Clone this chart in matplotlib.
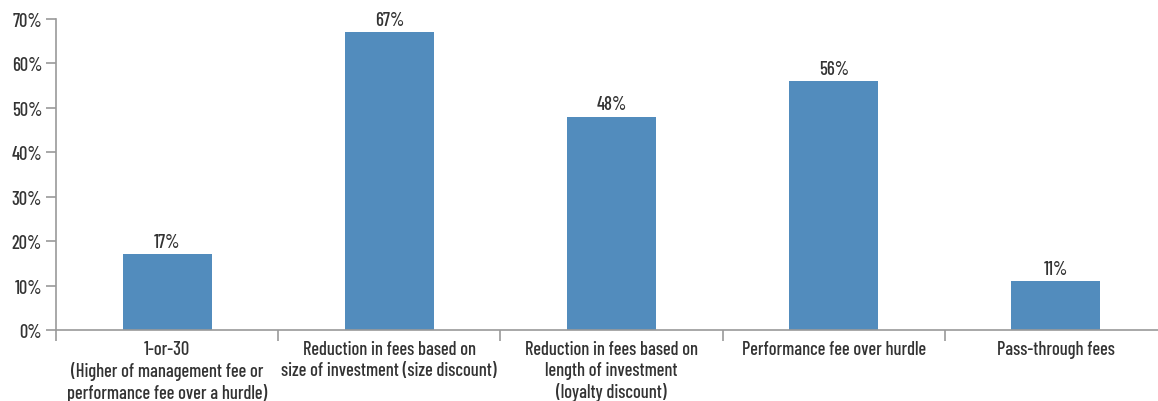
import matplotlib
matplotlib.use('Agg')
import matplotlib.pyplot as plt
from matplotlib import font_manager
import numpy as np

categories = [
    '1-or-30\n(Higher of management fee or\nperformance fee over a hurdle)',
    'Reduction in fees based on\nsize of investment (size discount)',
    'Reduction in fees based on\nlength of investment\n(loyalty discount)',
    'Performance fee over hurdle',
    'Pass-through fees',
]
values = [17, 67, 48, 56, 11]
yticks = [0, 10, 20, 30, 40, 50, 60, 70]

# narrow sans face, falling back if it is missing
names = {f.name for f in font_manager.fontManager.ttflist}
family = 'DejaVu Sans'
for cand in ['Barlow Condensed', 'Fira Sans Extra Condensed', 'Roboto Condensed']:
    if cand in names:
        family = cand
        break
plt.rcParams['font.family'] = [family, 'DejaVu Sans']
plt.rcParams['font.weight'] = 'medium'

text_color = '#333333'
axis_color = '#9a9a9a'
bar_color = '#528cbd'
fs = 13.3

fig = plt.figure(figsize=(11.58, 4.02), dpi=100)
ax = fig.add_axes([56 / 1158, 1 - 331 / 402, 1111 / 1158, 311 / 402])

x = np.arange(len(values))
ax.bar(x, values, width=0.4, color=bar_color, zorder=2)
for xi, v in zip(x, values):
    ax.text(xi, v + 0.8, f'{v}%', ha='center', va='bottom',
            fontsize=fs, color=text_color)

ax.set_xlim(-0.5, len(values) - 0.5)
ax.set_ylim(0, 70)
ax.set_yticks(yticks)
ax.set_yticklabels([f'{t}%' for t in yticks])

# category labels centred, tick marks between groups
ax.set_xticks(x)
ax.set_xticklabels(categories, fontsize=fs, color=text_color, linespacing=1.22)
ax.tick_params(axis='x', length=0, pad=7)
ax.set_xticks(np.arange(-0.5, len(values)), minor=True)
ax.tick_params(axis='x', which='minor', length=8, color=axis_color, width=1.2)

ax.tick_params(axis='y', labelsize=fs, labelcolor=text_color, length=7,
               color=axis_color, width=1.2, pad=3)

for side in ['top', 'right']:
    ax.spines[side].set_visible(False)
for side in ['left', 'bottom']:
    ax.spines[side].set_color(axis_color)
    ax.spines[side].set_linewidth(1.2)

fig.savefig('out.png', dpi=100)
